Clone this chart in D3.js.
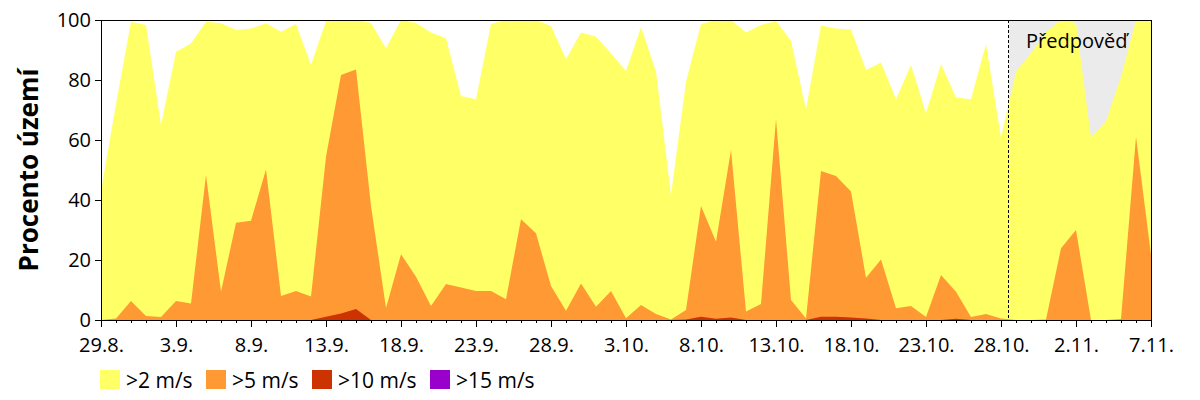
<!DOCTYPE html>
<html><head><meta charset="utf-8">
<script src="https://cdn.jsdelivr.net/npm/d3@7"></script>
<style>
body{margin:0;background:#fff}
svg{display:block}
text{font-family:"Open Sans","Noto Sans",sans-serif;fill:#000}
</style>
</head><body>
<svg id="chart" width="1200" height="400"></svg>
<script>
// ---- data ----
const startDay = Date.UTC(2023, 7, 29);
const endDay = Date.UTC(2023, 10, 7);
const forecastFrom = Date.UTC(2023, 9, 28, 12);
const tickLabels = ["29.8.","3.9.","8.9.","13.9.","18.9.","23.9.","28.9.","3.10.","8.10.","13.10.","18.10.","23.10.","28.10.","2.11.","7.11."];
const seriesNames = [">2 m/s", ">5 m/s", ">10 m/s", ">15 m/s"];
const seriesColors = ["#ffff66", "#ff9933", "#cc3300", "#9900cc"];

const over2 = [43,72,99.4,98.3,65,89.4,92.2,99.4,98.9,96.7,97.2,98.9,96.1,98.7,85,99.7,100,100,99,90.6,
  100,99,95.8,93.9,74.7,73.6,98.7,100,100,100,98,86.9,95.8,94.4,88.9,83,97.6,82.8,41.7,79.4,
  98.7,100,100,95.8,98.3,99.7,93.1,70.2,98.2,97.2,96.8,83.3,85.8,73.6,85,68.9,85.3,74.2,73.6,92,
  60.8,82.8,88.9,96,100,99,60.8,66.3,81.1,100,100];
const over5 = [0,0.5,6.3,1.3,1,6.3,5.5,48.3,9.4,32.4,33.1,50.2,8,9.7,7.8,54.4,81.7,83.5,38,4,
  21.9,14.4,4.7,12,10.8,9.7,9.7,6.9,33.6,28.9,11.3,3.1,12.2,4.4,9.7,0.6,5,2,0.2,3.3,
  38,26.1,56.7,2.8,5.3,67,6.7,0.5,49.7,48,42.8,14.1,20.2,3.9,4.7,1,15,9.4,1,2,
  0.5,0,0,0.2,23.9,30,0,0,0.3,61.1,21.7];
const over10 = [0,0,0,0,0,0,0,0,0,0,0,0,0,0,0,1.1,2.2,3.7,0,0,
  0,0,0,0,0,0,0,0,0,0,0,0,0,0,0,0,0,0,0,0.2,
  1.1,0.4,0.8,0,0,0,0,0,1.1,1.1,0.8,0.5,0,0,0,0,0,0.4,0,0,
  0,0,0,0,0,0,0,0,0,0,0];
const over15 = new Array(71).fill(0);

// ---- layout ----
const L = 101, R = 1151, T = 20, B = 320;
const svg = d3.select("#chart");
const days = d3.utcDay.range(new Date(startDay), new Date(endDay + 1));
const x = d3.scaleUtc().domain([new Date(startDay), new Date(endDay)]).range([L, R]);
const y = d3.scaleLinear().domain([0, 100]).range([B, T]);

// forecast background
svg.append("rect")
  .attr("x", x(new Date(forecastFrom))).attr("y", y(100))
  .attr("width", x(new Date(endDay)) - x(new Date(forecastFrom)))
  .attr("height", y(0) - y(100))
  .attr("fill", "#ebebeb");

const series = [over2, over5, over10, over15];
const area = d3.area().x((d, i) => x(days[i])).y0(y(0)).y1(d => y(d));
series.forEach((s, k) => {
  svg.append("path").datum(s).attr("d", area).attr("fill", seriesColors[k]);
});

// forecast line
svg.append("line")
  .attr("x1", x(new Date(forecastFrom))).attr("x2", x(new Date(forecastFrom)))
  .attr("y1", y(100)).attr("y2", y(0))
  .attr("stroke", "#000").attr("stroke-width", 1).attr("stroke-dasharray", "3,2")
  .attr("shape-rendering", "crispEdges");

svg.append("text").attr("x", 1026).attr("y", 48)
  .attr("font-size", 20).text("Předpověď");

// frame
svg.append("rect").attr("x", L).attr("y", T).attr("width", R - L).attr("height", B - T)
  .attr("fill", "none").attr("stroke", "#000").attr("stroke-width", 1)
  .attr("shape-rendering", "crispEdges");

// y axis
const yAxis = svg.append("g").attr("transform", `translate(${L},0)`)
  .call(d3.axisLeft(y).tickValues([0,20,40,60,80,100]).tickSize(6).tickPadding(4));
yAxis.select(".domain").remove();
yAxis.selectAll("text").attr("font-size", 20).attr("font-family", "'Open Sans',sans-serif").attr("fill", "#000");
yAxis.selectAll("line").attr("stroke", "#000").attr("shape-rendering", "crispEdges");

// x axis minor
const xMinor = svg.append("g").attr("transform", `translate(0,${B})`)
  .call(d3.axisBottom(x).tickValues(days).tickSize(3).tickFormat(""));
xMinor.select(".domain").remove();
xMinor.selectAll("line").attr("stroke", "#000").attr("shape-rendering", "crispEdges");

// x axis major
const majors = days.filter((d, i) => i % 5 === 0);
const xAxis = svg.append("g").attr("transform", `translate(0,${B})`)
  .call(d3.axisBottom(x).tickValues(majors).tickSize(7).tickPadding(11)
    .tickFormat((d, i) => tickLabels[i]));
xAxis.select(".domain").remove();
xAxis.selectAll("text").attr("font-size", 20).attr("font-family", "'Open Sans',sans-serif").attr("fill", "#000");
xAxis.selectAll("line").attr("stroke", "#000").attr("shape-rendering", "crispEdges");

// y title
svg.append("text")
  .attr("transform", `translate(38,${(T + B) / 2}) rotate(-90)`)
  .attr("text-anchor", "middle").attr("font-size", 26).attr("font-weight", "bold")
  .text("Procento území");

// legend
const legendX = [100, 206, 312, 430];
const lg = svg.append("g");
seriesNames.forEach((n, k) => {
  lg.append("rect").attr("x", legendX[k]).attr("y", 370).attr("width", 20).attr("height", 19)
    .attr("fill", seriesColors[k]);
  lg.append("text").attr("x", legendX[k] + 26).attr("y", 388).attr("font-size", 21).text(n);
});
</script>
</body></html>
